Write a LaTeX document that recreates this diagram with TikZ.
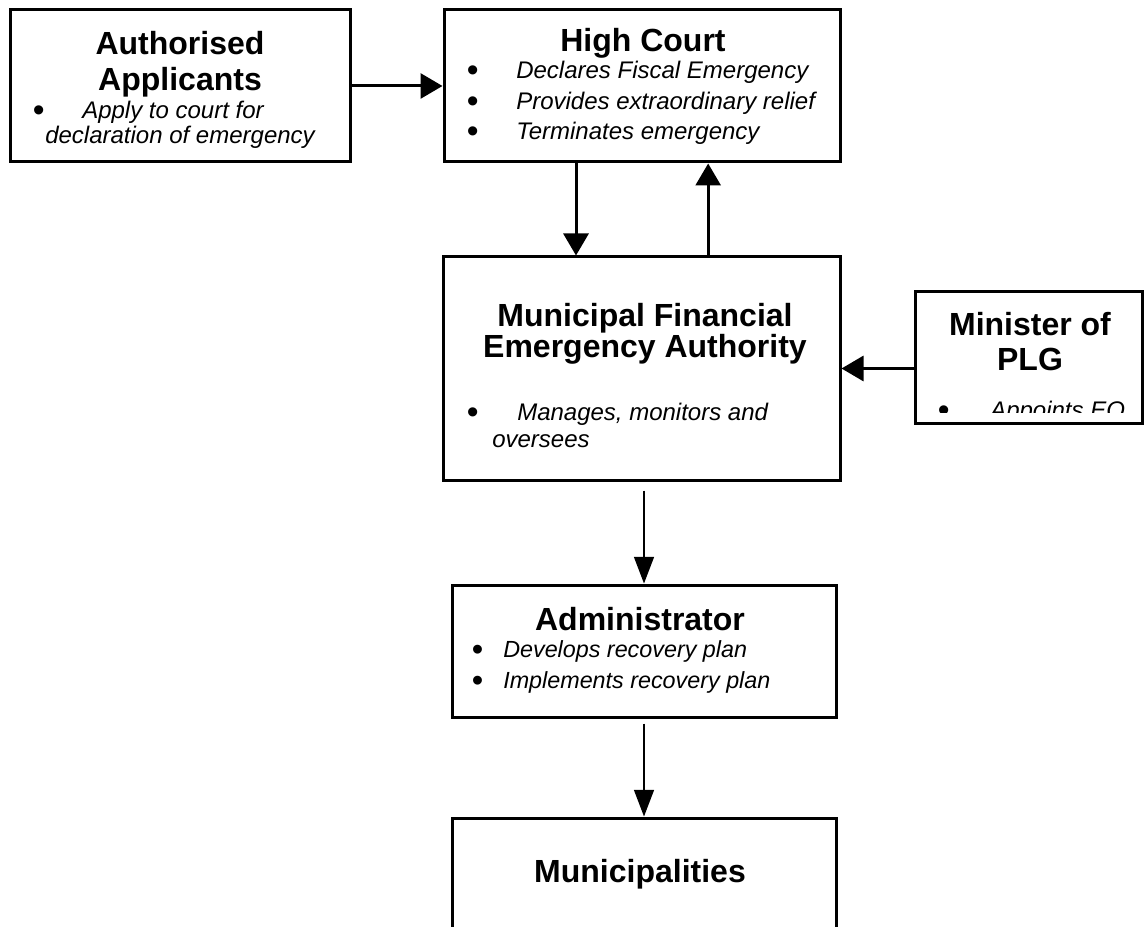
\documentclass[tikz,border=0pt]{standalone}
\usepackage{fontspec}
\setmainfont{Liberation Sans}
\usepackage{graphicx}
\usepackage{tikz}
\usetikzlibrary{arrows.meta, positioning}

\newcommand{\itembul}[1]{\makebox[#1][l]{\hspace*{-1pt}\raisebox{-2.25pt}{\scalebox{1.4}{\upshape\textbullet}}}}

\begin{document}
\begin{tikzpicture}[
      x=0.75pt, y=-0.75pt,
      box/.style={draw, line width=2.25pt, inner sep=0pt},
      title/.style={font=\fontsize{24}{27}\selectfont\bfseries, align=center, inner sep=0pt, anchor=base},
      body/.style={font=\fontsize{18}{23}\selectfont\itshape, align=left, inner sep=0pt, anchor=base west},
      arrow/.style={-{Triangle[length=16.5pt, width=18.75pt]}, line width=2.25pt},
      thinarrow/.style={-{Triangle[length=20pt, width=15pt]}, line width=1.1pt}
    ]
    \useasboundingbox (0,0) rectangle (1146,927);
    \clip (0,0) rectangle (1146,927);

    \node[box, minimum width=255pt, minimum height=114pt] (aa) at (180,86) {};
    \node[box, minimum width=297pt, minimum height=114pt] (hc) at (642,86) {};
    \node[box, minimum width=297.75pt, minimum height=167.25pt] (mfea) at (641.5,368.5) {};
    \node[box, minimum width=170.25pt, minimum height=98.25pt] (mins) at (1028.5,357.5) {};
    \node[box, minimum width=288pt, minimum height=99pt] (adm) at (644,651) {};
    \node[box, minimum width=288pt, minimum height=120pt] (mun) at (644,898) {};

    \node[title, font=\fontsize{24}{27}\selectfont\bfseries] (aatitle) at (180,91) {Authorised\\Applicants};
    \node[body, font=\fontsize{18}{18.75}\selectfont\itshape] (aatext) at (34,144)
      {\itembul{36pt}Apply to court for\\\hspace*{8.25pt}declaration of emergency};

    \node[title] (hctitle) at (643,52) {High Court};
    \node[body, font=\fontsize{18}{23}\selectfont\itshape] (hctext) at (468,140)
      {\itembul{36pt}Declares Fiscal Emergency\\\itembul{36pt}Provides extraordinary relief\\\itembul{36pt}Terminates emergency};

    \node[title, font=\fontsize{24}{19.5}\selectfont\bfseries] (mfeatitle) at (645,358) {Municipal Financial\\Emergency Authority};
    \node[body, font=\fontsize{18}{20.25}\selectfont\itshape] (mfeatext) at (468,447)
      {\itembul{36.75pt}Manages, monitors and\\\hspace*{18pt}oversees};

    \node[title, font=\fontsize{24}{26}\selectfont\bfseries] (minstitle) at (1030,370) {Minister of\\PLG};
    \begin{scope}
      \clip (915,292) rectangle (1142,412);
      \node[body] (minstext) at (939,418) {\itembul{38.25pt}Appoints EO};
    \end{scope}

    \node[title] (admtitle) at (640,630) {Administrator};
    \node[body, font=\fontsize{17.5}{23.25}\selectfont\itshape] (admtext) at (473,688)
      {\itembul{22.5pt}Develops recovery plan\\\itembul{22.5pt}Implements recovery plan};

    \node[title] (muntitle) at (640,882) {Municipalities};

    \draw[arrow] (aa.east) -- (hc.west);
    \draw[arrow] ([xshift=-49.5pt]hc.south) -- ([xshift=-49.5pt]hc.south |- mfea.north);
    \draw[arrow] ([xshift=50pt]mfea.north) -- ([xshift=50pt]mfea.north |- hc.south);
    \draw[arrow] (mins.west |- mfea.east) -- (mfea.east);
    \draw[thinarrow, shorten <=6.75pt] (adm.north |- mfea.south) -- (adm.north);
    \draw[thinarrow, shorten <=3.75pt] (adm.south) -- (mun.north);

\end{tikzpicture}
\end{document}
